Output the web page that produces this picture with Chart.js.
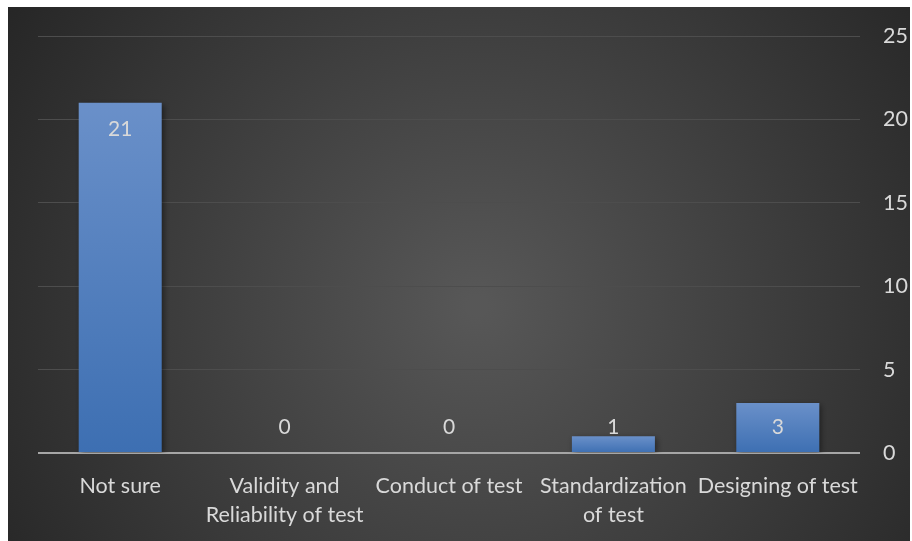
<!DOCTYPE html>
<html>
<head>
<meta charset="utf-8">
<script src="https://cdn.jsdelivr.net/npm/chart.js@4"></script>
<style>
  html, body { margin: 0; padding: 0; background: #ffffff; }
  #wrap { position: absolute; left: 8px; top: 7px; width: 902px; height: 534px; }
</style>
</head>
<body>
<div id="wrap"><canvas id="c"></canvas></div>
<script>
// Categories and counts
const categories = [
  'Not sure',
  ['Validity and', 'Reliability of test'],
  'Conduct of test',
  ['Standardization', 'of test'],
  'Designing of test'
];
const counts = [21, 0, 0, 1, 3];
const yTicks = [0, 5, 10, 15, 20, 25];

const FONT = 'Lato, "Open Sans", sans-serif';
const TEXT = '#d9d9d9';

// Dark radial backdrop behind the whole chart
const backdrop = {
  id: 'backdrop',
  beforeDraw(chart) {
    const { ctx, width, height } = chart;
    const g = ctx.createRadialGradient(width * 0.52, height * 0.56, 10, width * 0.52, height * 0.56, width * 0.62);
    g.addColorStop(0, '#575757');
    g.addColorStop(1, '#262626');
    ctx.save();
    ctx.fillStyle = g;
    ctx.fillRect(0, 0, width, height);
    ctx.restore();
  }
};

// Soft shadow under the bars
const barShadow = {
  id: 'barShadow',
  beforeDatasetsDraw(chart) {
    const ctx = chart.ctx;
    ctx.save();
    ctx.shadowColor = 'rgba(0,0,0,0.45)';
    ctx.shadowBlur = 6;
    ctx.shadowOffsetX = 2;
    ctx.shadowOffsetY = 2;
  },
  afterDatasetsDraw(chart) {
    chart.ctx.restore();
  }
};

// Value labels placed inside the top of each bar
const valueLabels = {
  id: 'valueLabels',
  afterDatasetsDraw(chart) {
    const { ctx } = chart;
    const meta = chart.getDatasetMeta(0);
    const yScale = chart.scales.y;
    const base = yScale.getPixelForValue(0);
    ctx.save();
    ctx.font = '21px ' + FONT;
    ctx.fillStyle = TEXT;
    ctx.textAlign = 'center';
    ctx.textBaseline = 'middle';
    meta.data.forEach((bar, i) => {
      const top = yScale.getPixelForValue(counts[i]);
      const y = Math.min(top + 27, base - 26);
      ctx.fillText(String(counts[i]), bar.x, y);
    });
    ctx.restore();
  }
};

new Chart(document.getElementById('c'), {
  type: 'bar',
  data: {
    labels: categories,
    datasets: [{
      data: counts,
      backgroundColor(context) {
        const chart = context.chart;
        if (!chart.chartArea || !chart.scales.y) return '#4a7cbf';
        const yScale = chart.scales.y;
        const v = counts[context.dataIndex];
        const top = yScale.getPixelForValue(v);
        const bottom = yScale.getPixelForValue(0);
        if (bottom - top < 1) return '#4a7cbf';
        const g = chart.ctx.createLinearGradient(0, top, 0, bottom);
        g.addColorStop(0, '#6a90c9');
        g.addColorStop(1, '#3d6fb2');
        return g;
      },
      borderWidth: 0,
      barPercentage: 0.505,
      categoryPercentage: 1
    }]
  },
  options: {
    responsive: true,
    maintainAspectRatio: false,
    animation: false,
    layout: { padding: { left: 30, right: 0, top: 29, bottom: 0 } },
    plugins: {
      legend: { display: false },
      tooltip: { enabled: false }
    },
    scales: {
      x: {
        grid: { display: false, drawTicks: false },
        border: { display: false },
        ticks: {
          color: TEXT,
          font: { family: FONT, size: 21.5, lineHeight: 1.38 },
          padding: 18,
          maxRotation: 0,
          autoSkip: false
        },
        afterFit(scale) { scale.height = 88; }
      },
      y: {
        position: 'right',
        min: 0,
        max: 25,
        afterBuildTicks(scale) { scale.ticks = yTicks.map(v => ({ value: v })); },
        grid: {
          drawTicks: false,
          color: ctx => ctx.tick && ctx.tick.value === 0 ? '#a6a6a6' : '#4d4d4d',
          lineWidth: ctx => ctx.tick && ctx.tick.value === 0 ? 2 : 1
        },
        border: { display: false },
        ticks: {
          color: TEXT,
          font: { family: FONT, size: 21.5 },
          padding: 23
        },
        afterFit(scale) {
          scale.width = 50;
          scale.paddingTop = 0;
          scale.paddingBottom = 0;
        }
      }
    }
  },
  plugins: [backdrop, barShadow, valueLabels]
});
</script>
</body>
</html>
